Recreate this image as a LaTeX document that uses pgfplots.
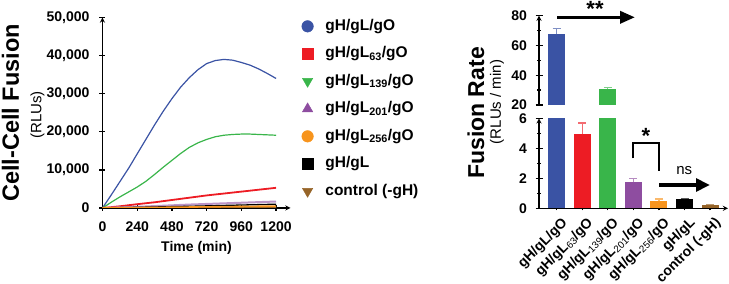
\documentclass[border=0pt]{standalone}
\usepackage{fontspec}
\setmainfont{Liberation Sans}
\usepackage{pgfplots}
\pgfplotsset{compat=1.18}
\usetikzlibrary{arrows.meta}
\definecolor{cblue}{RGB}{58,83,164}
\definecolor{cred}{RGB}{237,28,36}
\definecolor{cgreen}{RGB}{57,181,74}
\definecolor{cpurple}{RGB}{142,77,160}
\definecolor{corange}{RGB}{247,148,29}
\definecolor{cbrown}{RGB}{150,100,40}
\newcommand{\tf}{\fontsize{14}{16}\selectfont\bfseries}
\pgfplotsset{
  myaxis/.style={
    scale only axis, anchor=south west,
    axis line style={-, line width=1.3pt},
    tick style={line width=1.3pt, black},
    tick align=outside,
    /pgf/number format/assume math mode=true,
    ticklabel style={font=\tf},
  },
  mybar/.style={ybar, bar shift=0pt, bar width=17pt, fill=#1, draw=none,
    error bars/.cd, y dir=plus, y explicit,
    error bar style={#1!65, line width=1.2pt},
    error mark options={rotate=90, #1!65, mark size=4pt, line width=1.2pt}},
}
\begin{document}
\begin{tikzpicture}
\useasboundingbox (0pt,0pt) rectangle (729pt,284pt);
% ---------------- left: kinetics ----------------
\begin{axis}[myaxis,
  at={(102.5pt,76pt)}, width=188pt, height=190.5pt,
  xmin=0, xmax=1300, ymin=0, ymax=50000,
  axis lines=left,
  xtick={0,240,480,720,960,1200},
  ytick={0,10000,20000,30000,40000,50000},
  major tick length=6pt,
  scaled y ticks=false,
  yticklabel style={/pgf/number format/1000 sep={,}, xshift=-6.5pt},
  xticklabel style={/pgf/number format/1000 sep={}, yshift=-7pt},
  legend cell align=left,
  legend style={at={(axis description cs:1.059,0.998)}, anchor=north west,
    draw=none, fill=none, font=\fontsize{15.5}{17}\selectfont\bfseries,
    inner sep=0pt,
    row sep=11pt,
    nodes={inner sep=1pt, text height=11pt, text depth=3.5pt},
    /tikz/every odd column/.append style={column sep=11pt}},
]
\addplot[forget plot, cblue, line width=1.2pt] coordinates {
(0,0) (60,3400) (120,6900) (180,10400) (240,14200) (300,18000) (360,21800)
(420,25400) (480,28700) (540,31700) (600,34200) (660,36300) (720,37900)
(780,38700) (840,39000) (900,38800) (960,38200) (1020,37500) (1080,36500)
(1140,35300) (1200,34000)};
\addplot[forget plot, cgreen, line width=1.2pt] coordinates {
(0,0) (60,1500) (120,2900) (180,4200) (240,5500) (300,7000) (360,8800)
(420,10700) (480,12500) (540,14300) (600,15900) (660,17100) (720,18000)
(780,18700) (840,19100) (900,19300) (960,19400) (1020,19400) (1080,19300)
(1140,19200) (1200,19100)};
\addplot[forget plot, cred, line width=1.8pt] coordinates {
(0,0) (120,450) (240,1000) (360,1500) (480,2100) (600,2700) (720,3300)
(840,3800) (960,4300) (1080,4800) (1200,5300)};
\addplot[forget plot, cpurple!60, line width=2pt] coordinates {
(0,0) (300,400) (600,900) (900,1300) (1200,1700)};
\addplot[forget plot, black, line width=1.3pt] coordinates {
(0,0) (600,450) (1200,1000)};
\addplot[forget plot, cbrown, line width=1.2pt] coordinates {
(0,0) (600,100) (1200,200)};
\addplot[forget plot, corange, line width=1.6pt] coordinates {
(0,0) (600,250) (1200,500)};
\addlegendimage{only marks, mark=*, mark size=5.8pt, cblue}
\addlegendentry{gH/gL/gO}
\addlegendimage{only marks, mark=square*, mark size=5.5pt, cred}
\addlegendentry{gH/gL\textsubscript{63}/gO}
\addlegendimage{only marks, mark=triangle*, mark size=6pt, mark options={rotate=180}, cgreen}
\addlegendentry{gH/gL\textsubscript{139}/gO}
\addlegendimage{only marks, mark=triangle*, mark size=6pt, cpurple}
\addlegendentry{gH/gL\textsubscript{201}/gO}
\addlegendimage{only marks, mark=*, mark size=5.8pt, corange}
\addlegendentry{gH/gL\textsubscript{256}/gO}
\addlegendimage{only marks, mark=square*, mark size=5.5pt, black}
\addlegendentry{gH/gL}
\addlegendimage{only marks, mark=triangle*, mark size=6pt, mark options={rotate=180}, cbrown}
\addlegendentry{control (-gH)}
\end{axis}
\node[rotate=90, font=\fontsize{23.5}{26}\selectfont\bfseries] at (10.5pt,171pt) {Cell-Cell Fusion};
\node[rotate=90, font=\fontsize{15}{17}\selectfont] at (37.5pt,169pt) {(RLUs)};
\node[font=\tf] at (196.5pt,36pt) {Time (min)};
% ---------------- right: upper segment ----------------
\begin{axis}[myaxis,
  at={(539pt,179pt)}, width=189pt, height=89.3pt,
  xmin=-0.69, xmax=6.7, ymin=20, ymax=80,
  axis x line=none, axis y line=left,
  xtick=\empty,
  ytick={20,40,60,80}, minor ytick={30,50,70},
  yticklabel style={xshift=-5pt},
  major tick length=7pt, minor tick length=3.5pt,
]
\addplot[mybar=cblue] coordinates {(0,67.5) +- (0,3.8)};
\addplot[mybar=cred] coordinates {(1,4.95) +- (0,0.73)};
\addplot[mybar=cgreen] coordinates {(2,30.5) +- (0,1.4)};
\end{axis}
% ---------------- right: lower segment ----------------
\begin{axis}[myaxis,
  at={(539pt,75.7pt)}, width=189pt, height=90pt,
  xmin=-0.69, xmax=6.7, ymin=0, ymax=6,
  axis lines=left,
  xtick={0,1,2,3,4,5,6},
  xticklabels={gH/gL/gO, gH/gL{\mdseries\textsubscript{63}}/gO, gH/gL{\mdseries\textsubscript{139}}/gO, gH/gL{\mdseries\textsubscript{201}}/gO, gH/gL{\mdseries\textsubscript{256}}/gO, gH/gL, control (-gH)},
  xticklabel style={xshift=4pt, yshift=-3pt, rotate=45, anchor=north east, inner sep=1pt},
  yticklabel style={xshift=-5pt},
  x tick style={/pgfplots/major tick length=4pt},
  ytick={0,2,4,6}, minor ytick={1,3,5},
  major tick length=7pt, minor tick length=3.5pt,
]
\addplot[mybar=cblue] coordinates {(0,67.5) +- (0,3.8)};
\addplot[mybar=cred] coordinates {(1,4.95) +- (0,0.73)};
\addplot[mybar=cgreen] coordinates {(2,30.5) +- (0,1.4)};
\addplot[mybar=cpurple] coordinates {(3,1.73) +- (0,0.27)};
\addplot[mybar=corange] coordinates {(4,0.5) +- (0,0.12)};
\addplot[mybar=black] coordinates {(5,0.6) +- (0,0.06)};
\addplot[mybar=cbrown] coordinates {(6,0.21) +- (0,0.06)};
\end{axis}
\node[rotate=90, font=\fontsize{23}{26}\selectfont\bfseries] at (476pt,171pt) {Fusion Rate};
\node[rotate=90, font=\fontsize{15}{17}\selectfont] at (497pt,182pt) {(RLUs / min)};
% annotations
\draw[line width=3.5pt, -{Triangle[length=15pt,width=12pt]}] (557.3pt,266.7pt) -- (635pt,266.7pt);
\node[anchor=north, inner sep=0pt, font=\fontsize{22}{24}\selectfont\bfseries] at (595pt,282.5pt) {**};
\draw[line width=1.8pt] (633.3pt,125.7pt) -- (633.3pt,140.7pt) -- (659pt,140.7pt) -- (659pt,113pt);
\node[anchor=north, inner sep=0pt, font=\fontsize{22}{24}\selectfont\bfseries] at (646pt,155.7pt) {*};
\node[anchor=base, inner sep=0pt, font=\fontsize{15}{17}\selectfont] at (684.3pt,109pt) {ns};
\draw[line width=3.5pt, -{Triangle[length=14pt,width=12.7pt]}] (659pt,99pt) -- (710pt,99pt);
\end{tikzpicture}
\end{document}
